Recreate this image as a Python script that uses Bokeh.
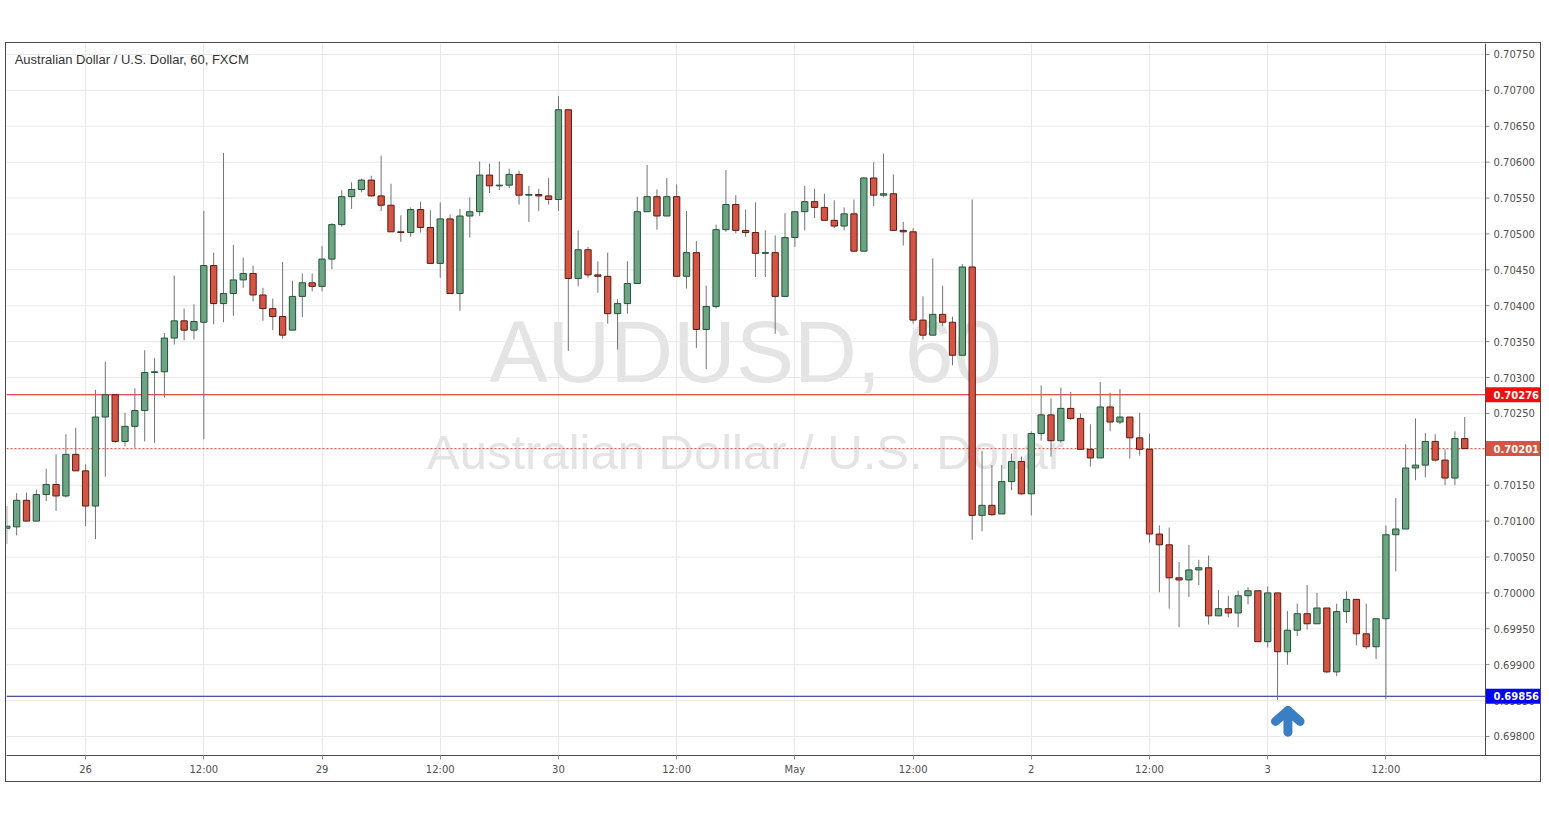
from bokeh.plotting import figure
from bokeh.models import ColumnDataSource, FixedTicker, Label, Span, Range1d
from bokeh.core.properties import value
from bokeh.embed import file_html
from bokeh.resources import INLINE

# ---------------- data (AUDUSD, 60 min bars) ----------------
opens = [0.70090, 0.70092, 0.70129, 0.70100, 0.70137, 0.70151, 0.70135, 0.70193, 0.70170, 0.70121,
         0.70245, 0.70276, 0.70211, 0.70232, 0.70254, 0.70307, 0.70308, 0.70355, 0.70379, 0.70366,
         0.70377, 0.70456, 0.70403, 0.70417, 0.70436, 0.70445, 0.70415, 0.70396, 0.70385, 0.70366,
         0.70413, 0.70432, 0.70427, 0.70465, 0.70513, 0.70552, 0.70562, 0.70575, 0.70553, 0.70540,
         0.70503, 0.70502, 0.70534, 0.70509, 0.70459, 0.70521, 0.70417, 0.70525, 0.70531, 0.70582,
         0.70567, 0.70568, 0.70583, 0.70554, 0.70555, 0.70553, 0.70548, 0.70673, 0.70438, 0.70478,
         0.70443, 0.70441, 0.70389, 0.70403, 0.70431, 0.70531, 0.70552, 0.70525, 0.70552, 0.70441,
         0.70474, 0.70367, 0.70399, 0.70506, 0.70541, 0.70505, 0.70502, 0.70473, 0.70474, 0.70413,
         0.70495, 0.70531, 0.70545, 0.70537, 0.70519, 0.70511, 0.70528, 0.70476, 0.70578, 0.70554,
         0.70556, 0.70505, 0.70503, 0.70380, 0.70359, 0.70388, 0.70377, 0.70331, 0.70454, 0.70108,
         0.70122, 0.70110, 0.70155, 0.70183, 0.70138, 0.70222, 0.70248, 0.70212, 0.70257, 0.70243,
         0.70200, 0.70188, 0.70259, 0.70238, 0.70245, 0.70216, 0.70200, 0.70082, 0.70067, 0.70021,
         0.70018, 0.70032, 0.70035, 0.69968, 0.69978, 0.69972, 0.69996, 0.70003, 0.69932, 0.70000,
         0.69918, 0.69948, 0.69971, 0.69957, 0.69979, 0.69890, 0.69974, 0.69991, 0.69943, 0.69925,
         0.69964, 0.70081, 0.70089, 0.70174, 0.70178, 0.70211, 0.70185, 0.70160, 0.70215]
highs = [0.70121, 0.70139, 0.70140, 0.70144, 0.70173, 0.70193, 0.70221, 0.70230, 0.70179, 0.70283,
         0.70322, 0.70276, 0.70251, 0.70285, 0.70338, 0.70327, 0.70362, 0.70442, 0.70396, 0.70402,
         0.70532, 0.70474, 0.70613, 0.70485, 0.70467, 0.70456, 0.70425, 0.70410, 0.70461, 0.70435,
         0.70445, 0.70445, 0.70483, 0.70515, 0.70561, 0.70572, 0.70577, 0.70581, 0.70609, 0.70570,
         0.70526, 0.70537, 0.70545, 0.70533, 0.70544, 0.70527, 0.70535, 0.70551, 0.70601, 0.70598,
         0.70601, 0.70591, 0.70588, 0.70567, 0.70563, 0.70578, 0.70692, 0.70673, 0.70505, 0.70482,
         0.70462, 0.70474, 0.70409, 0.70462, 0.70552, 0.70596, 0.70562, 0.70578, 0.70569, 0.70532,
         0.70490, 0.70428, 0.70513, 0.70589, 0.70554, 0.70534, 0.70544, 0.70505, 0.70498, 0.70529,
         0.70531, 0.70567, 0.70563, 0.70556, 0.70547, 0.70537, 0.70548, 0.70579, 0.70600, 0.70612,
         0.70583, 0.70517, 0.70508, 0.70413, 0.70466, 0.70428, 0.70385, 0.70458, 0.70548, 0.70198,
         0.70178, 0.70178, 0.70194, 0.70190, 0.70225, 0.70289, 0.70271, 0.70286, 0.70280, 0.70250,
         0.70235, 0.70294, 0.70279, 0.70284, 0.70245, 0.70251, 0.70222, 0.70094, 0.70091, 0.70043,
         0.70067, 0.70046, 0.70052, 0.70004, 0.69996, 0.70003, 0.70008, 0.70003, 0.70009, 0.70000,
         0.69975, 0.69985, 0.70011, 0.70000, 0.69979, 0.69985, 0.70002, 0.69991, 0.69985, 0.69964,
         0.70094, 0.70132, 0.70207, 0.70243, 0.70223, 0.70221, 0.70200, 0.70225, 0.70245]
lows = [0.70068, 0.70080, 0.70100, 0.70100, 0.70128, 0.70114, 0.70133, 0.70170, 0.70093, 0.70075,
        0.70162, 0.70209, 0.70204, 0.70202, 0.70211, 0.70209, 0.70272, 0.70346, 0.70352, 0.70353,
        0.70214, 0.70374, 0.70377, 0.70386, 0.70425, 0.70406, 0.70379, 0.70366, 0.70354, 0.70366,
        0.70384, 0.70420, 0.70420, 0.70451, 0.70510, 0.70535, 0.70558, 0.70552, 0.70532, 0.70503,
        0.70489, 0.70496, 0.70502, 0.70459, 0.70439, 0.70417, 0.70393, 0.70495, 0.70525, 0.70557,
        0.70561, 0.70564, 0.70541, 0.70517, 0.70532, 0.70541, 0.70532, 0.70337, 0.70427, 0.70439,
        0.70418, 0.70375, 0.70339, 0.70389, 0.70431, 0.70531, 0.70506, 0.70525, 0.70440, 0.70424,
        0.70341, 0.70312, 0.70396, 0.70503, 0.70501, 0.70496, 0.70440, 0.70440, 0.70361, 0.70413,
        0.70482, 0.70505, 0.70522, 0.70519, 0.70508, 0.70505, 0.70475, 0.70476, 0.70539, 0.70551,
        0.70505, 0.70484, 0.70375, 0.70353, 0.70359, 0.70372, 0.70317, 0.70331, 0.70074, 0.70086,
        0.70107, 0.70110, 0.70143, 0.70137, 0.70108, 0.70212, 0.70190, 0.70209, 0.70241, 0.70200,
        0.70176, 0.70188, 0.70225, 0.70235, 0.70187, 0.70191, 0.70070, 0.70001, 0.69978, 0.69952,
        0.69994, 0.70011, 0.69956, 0.69968, 0.69966, 0.69952, 0.69984, 0.69932, 0.69924, 0.69851,
        0.69900, 0.69940, 0.69949, 0.69957, 0.69888, 0.69884, 0.69958, 0.69927, 0.69922, 0.69908,
        0.69852, 0.70030, 0.70089, 0.70157, 0.70161, 0.70183, 0.70150, 0.70150, 0.70201]
closes = [0.70093, 0.70129, 0.70100, 0.70137, 0.70151, 0.70135, 0.70193, 0.70170, 0.70121, 0.70245,
          0.70276, 0.70211, 0.70232, 0.70254, 0.70307, 0.70308, 0.70355, 0.70379, 0.70366, 0.70378,
          0.70456, 0.70403, 0.70417, 0.70436, 0.70445, 0.70415, 0.70396, 0.70385, 0.70359, 0.70413,
          0.70432, 0.70427, 0.70465, 0.70513, 0.70552, 0.70562, 0.70575, 0.70553, 0.70540, 0.70503,
          0.70502, 0.70534, 0.70509, 0.70459, 0.70521, 0.70417, 0.70525, 0.70531, 0.70582, 0.70567,
          0.70568, 0.70583, 0.70554, 0.70555, 0.70553, 0.70548, 0.70673, 0.70438, 0.70478, 0.70443,
          0.70441, 0.70389, 0.70403, 0.70431, 0.70531, 0.70552, 0.70525, 0.70552, 0.70441, 0.70474,
          0.70367, 0.70399, 0.70506, 0.70541, 0.70505, 0.70502, 0.70473, 0.70474, 0.70413, 0.70495,
          0.70531, 0.70545, 0.70537, 0.70519, 0.70511, 0.70528, 0.70476, 0.70578, 0.70554, 0.70556,
          0.70505, 0.70503, 0.70380, 0.70359, 0.70388, 0.70377, 0.70331, 0.70454, 0.70108, 0.70122,
          0.70109, 0.70155, 0.70183, 0.70138, 0.70222, 0.70248, 0.70212, 0.70257, 0.70243, 0.70200,
          0.70188, 0.70259, 0.70238, 0.70245, 0.70216, 0.70200, 0.70082, 0.70067, 0.70021, 0.70018,
          0.70032, 0.70035, 0.69968, 0.69978, 0.69972, 0.69996, 0.70003, 0.69932, 0.70000, 0.69918,
          0.69948, 0.69971, 0.69957, 0.69979, 0.69890, 0.69974, 0.69991, 0.69943, 0.69925, 0.69964,
          0.70081, 0.70089, 0.70174, 0.70178, 0.70211, 0.70185, 0.70160, 0.70215, 0.70201]

time_tick_bars = [8, 20, 32, 44, 56, 68, 80, 92, 104, 116, 128, 140]
time_tick_labels = ["26", "12:00", "29", "12:00", "30", "12:00", "May", "12:00", "2", "12:00", "3", "12:00"]
price_ticks = [0.69800, 0.69850, 0.69900, 0.69950, 0.70000, 0.70050, 0.70100, 0.70150, 0.70200, 0.70250,
               0.70300, 0.70350, 0.70400, 0.70450, 0.70500, 0.70550, 0.70600, 0.70650, 0.70700, 0.70750]
price_tick_labels = ["0.69800", "0.69850", "0.69900", "0.69950", "0.70000", "0.70050", "0.70100",
                     "0.70150", "0.70200", "0.70250", "0.70300", "0.70350", "0.70400", "0.70450",
                     "0.70500", "0.70550", "0.70600", "0.70650", "0.70700", "0.70750"]

resistance_level = 0.70276
last_price = 0.70201
support_level = 0.69856
tag_prices = [resistance_level, last_price, support_level]
tag_texts = ["0.70276", "0.70201", "0.69856"]
signal_bar = 130

title_text = "Australian Dollar / U.S. Dollar, 60, FXCM"
wm_symbol = "AUDUSD, 60"
wm_name = "Australian Dollar / U.S. Dollar"

# ---------------- styling ----------------
UP_FILL, UP_LINE = "#6ba583", "#225437"
DN_FILL, DN_LINE = "#d75442", "#5b1a13"
WICK = "#737375"
AXIS = "#4a4a4a"
TXT = "#4f4f4f"
GRID = "#e8e8e8"
TAG_COLORS = ["#f20d0d", "#d75442", "#0000ff"]

n = len(opens)
idx = list(range(n))
up = [c >= o for o, c in zip(opens, closes)]
src = ColumnDataSource(dict(
    x=idx, o=opens, h=highs, l=lows, c=closes,
    top=[max(o, c) for o, c in zip(opens, closes)],
    bottom=[min(o, c) for o, c in zip(opens, closes)],
    fill=[UP_FILL if u else DN_FILL for u in up],
    line=[UP_LINE if u else DN_LINE for u in up],
))

# bar-index units: 1 bar = 9.851 px
PX = 1 / 9.851
x0 = -0.03                 # left edge of chart
x_sep = 150.11             # price-scale separator
x_end = x0 + 1534 * PX     # right edge of price scale
y0, y1 = 0.697735, 0.707653

p = figure(frame_width=1534, frame_height=712,
           x_range=Range1d(x0, x_end), y_range=Range1d(y0, y1),
           y_axis_location=None, output_backend="svg", toolbar_location=None,
           min_border_left=0, min_border_right=0, min_border_top=0, min_border_bottom=26,
           outline_line_color=None, background_fill_color="white", border_fill_color="white")
p.margin = (42, 0, 0, 5)
p.styles = {"border": "1px solid #4a4a4a"}

# time axis
xa = p.xaxis[0]
xa.ticker = FixedTicker(ticks=time_tick_bars)
xa.major_label_overrides = {b: lab for b, lab in zip(time_tick_bars, time_tick_labels)}
xa.axis_line_color = AXIS
xa.major_tick_line_color = "#8a8a8a"
xa.minor_tick_line_color = None
xa.major_tick_in = 0
xa.major_tick_out = 4
xa.major_label_standoff = 4
xa.major_label_text_font = "DejaVu Sans"
xa.major_label_text_font_size = "10px"
xa.major_label_text_color = TXT
p.xgrid.grid_line_color = GRID
p.ygrid.visible = False

# horizontal grid (chart area only)
p.segment(x0=x0, x1=x_sep, y0=price_ticks, y1=price_ticks, line_color=GRID, line_width=1)

# watermark
p.add_layout(Label(x=75.0, y=0.703363, text=wm_symbol, text_font="Liberation Sans",
                   text_font_size="87px", text_color="#e4e4e4", text_align="center",
                   text_baseline="alphabetic", level="underlay"))
p.add_layout(Label(x=75.0, y=0.701956, text=wm_name, text_font="Liberation Sans",
                   text_font_size="49px", text_color="#e4e4e4", text_align="center",
                   text_baseline="alphabetic", level="underlay"))

# level lines
p.segment(x0=x0, x1=x_sep, y0=resistance_level, y1=resistance_level, line_color="#e0161b", line_width=1)
p.segment(x0=x0, x1=x_sep, y0=last_price, y1=last_price, line_color="#d75442", line_width=1,
          line_dash="2 2")
p.segment(x0=x0, x1=x_sep, y0=support_level, y1=support_level, line_color="#1c1c8c", line_width=1)

# candles
p.segment(x0="x", y0="l", x1="x", y1="h", line_color=WICK, line_width=1, source=src)
p.vbar(x="x", width=0.64, top="top", bottom="bottom", fill_color="fill", line_color="line",
       line_width=1, source=src)

# arrow marker under the low
p.multi_line(xs=[[signal_bar + 0.05, signal_bar + 0.05],
                 [signal_bar - 1.21, signal_bar + 0.05, signal_bar + 1.28]],
             ys=[[0.69836, 0.69806], [0.69821, 0.69836, 0.69821]],
             line_color="#3a7ec6", line_width=9, line_cap="round", line_join="round")

# title
p.add_layout(Label(x=0.8, y=0.70743, text=title_text, text_font="Liberation Sans",
                   text_font_size="13px", text_color="#333333", text_baseline="middle",
                   text_align="left"))

# ---------------- price scale ----------------
p.add_layout(Span(location=x_sep, dimension="height", line_color=AXIS, line_width=1))
p.segment(x0=x_sep, x1=x_sep + 4 * PX, y0=price_ticks, y1=price_ticks, line_color="#8a8a8a", line_width=1)
p.text(x=x_sep + 8 * PX, y=price_ticks, text=price_tick_labels, text_font=value("DejaVu Sans"),
       text_font_size="10px", text_color=TXT, text_baseline="middle", text_align="left")

# price tags
tag_cx = (x_sep + x_end) / 2 + 0.5 * PX
p.rect(x=tag_cx, y=tag_prices, width=55, height=15, width_units="screen", height_units="screen",
       fill_color=TAG_COLORS, line_color=None)
p.text(x=x_sep + 8 * PX, y=tag_prices, text=tag_texts, text_font=value("DejaVu Sans"),
       text_font_size="10px", text_font_style="bold", text_color="white",
       text_baseline="middle", text_align="left")

open("out.html", "w").write(file_html(p, INLINE))
